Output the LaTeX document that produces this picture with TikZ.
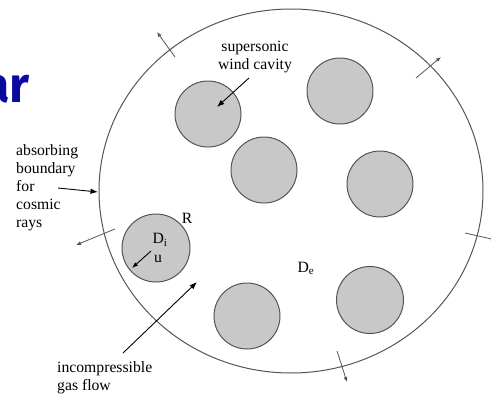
\documentclass[tikz,border=0pt]{standalone}
\usepackage{fontspec}
\setmainfont{Liberation Serif}
\newfontfamily\titlefont{Fira Sans}
\usetikzlibrary{arrows.meta}
\definecolor{bnd}{RGB}{85,85,85}
\definecolor{cavfill}{RGB}{200,200,200}
\definecolor{titleblue}{RGB}{10,10,160}
\tikzset{
  cavity/.style={circle,draw=bnd,line width=1pt,fill=cavfill,minimum size=66pt,inner sep=0pt},
  lbl/.style={font=\fontsize{15.7}{18}\selectfont,inner sep=0pt},
  ptr/.style={line width=0.9pt,-{Latex[length=7.5pt,width=5.5pt]}},
  outarrow/.style={line width=0.8pt,bnd,-{Latex[length=5pt,width=4pt]}}
}
\begin{document}
\begin{tikzpicture}[x=1pt,y=-1pt]
\useasboundingbox (0,0) rectangle (491,394);
\clip (0,0) rectangle (491,394);
% title fragment
\node[anchor=south east,inner sep=0pt,text=titleblue,font=\titlefont\bfseries\fontsize{50}{50}\selectfont] (title) at (30,104) {ar};
% boundary
\draw[bnd,line width=1pt] (291,191) ellipse [x radius=192,y radius=182];
% cavities
\node[cavity] (c1) at (208,114) {};
\node[cavity] (c2) at (340,91) {};
\node[cavity] (c3) at (264,170) {};
\node[cavity] (c4) at (380,184) {};
\node[cavity,minimum size=68pt] (c5) at (156,248) {};
\node[cavity] (c6) at (247,316) {};
\node[cavity,minimum size=67pt] (c7) at (370,300) {};
% labels
\node[lbl,align=center] (sup) at (255,57) {supersonic\\wind cavity};
\node[lbl,align=left,anchor=north west] (abs) at (16,144) {absorbing\\boundary\\for\\cosmic\\rays};
\node[lbl,align=left,anchor=north west] (inc) at (57,361) {incompressible\\gas flow};
\node[lbl] (R) at (187,218) {R};
\node[lbl] (Di) at (160,240) {D\textsubscript{i}};
\node[lbl] (u) at (158,259) {u};
\node[lbl] (De) at (306,268) {D\textsubscript{e}};
% pointer arrows
\coordinate (supA) at (249,78);
\coordinate (supB) at (217,107);
\draw[ptr] (supA) -- (supB);
\coordinate (absA) at (58,188);
\coordinate (absB) at (98,192);
\draw[ptr] (absA) -- (absB);
\coordinate (incA) at (123,353);
\coordinate (incB) at (197,282);
\draw[ptr] (incA) -- (incB);
\coordinate (uA) at (151,251);
\coordinate (uB) at (132,268);
\draw[ptr,-{Latex[length=6pt,width=4.5pt]}] (uA) -- (uB);
% outward normals across boundary
\coordinate (t1a) at (175,57); \coordinate (t1b) at (157,32);
\draw[outarrow] (t1a) -- (t1b);
\coordinate (t2a) at (416,78); \coordinate (t2b) at (441,57);
\draw[outarrow] (t2a) -- (t2b);
\coordinate (t3a) at (115,229); \coordinate (t3b) at (76,245);
\draw[outarrow] (t3a) -- (t3b);
\coordinate (t4a) at (465,233); \coordinate (t4b) at (496,240);
\draw[outarrow] (t4a) -- (t4b);
\coordinate (t5a) at (337,351); \coordinate (t5b) at (347,382);
\draw[outarrow] (t5a) -- (t5b);
\end{tikzpicture}
\end{document}
